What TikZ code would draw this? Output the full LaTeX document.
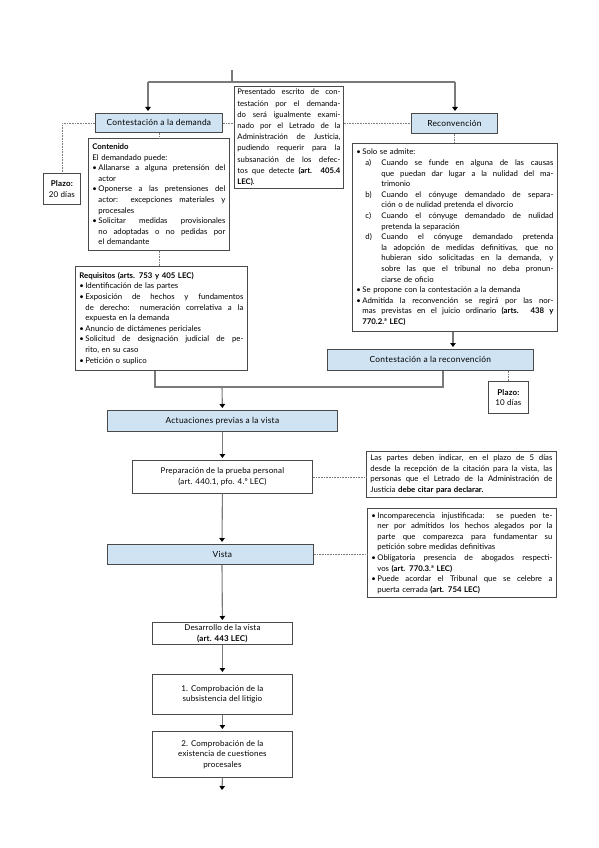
\documentclass[tikz,border=0pt]{standalone}
\usepackage{fontspec}
\setmainfont{Lato}
\usetikzlibrary{arrows.meta,calc}
\definecolor{bluefill}{HTML}{CFE3F3}
\definecolor{boxline}{HTML}{4A4A4A}
\definecolor{conn}{HTML}{7A7A7A}
\newcommand\sj{\spaceskip=0pt\xspaceskip=0pt\relax}
\newcommand\lnJ[2]{\noindent\hspace*{#1}\makebox[\dimexpr\hsize-#1\relax][s]{\sj #2}\par}
\newcommand\lnL[2]{\noindent\hspace*{#1}#2\par}
\newcommand\buJ[2]{\noindent\makebox[#1][l]{\textbullet}\makebox[\dimexpr\hsize-#1\relax][s]{\sj #2}\par}
\newcommand\buL[2]{\noindent\makebox[#1][l]{\textbullet}#2\par}
\newcommand\itJ[2]{\noindent\hspace*{9pt}\makebox[16pt][l]{#1}\makebox[\dimexpr\hsize-25pt\relax][s]{\sj #2}\par}
\begin{document}
\begin{tikzpicture}[x=1pt,y=-1pt,
 box/.style={draw=boxline, line width=0.8pt, fill=white, inner sep=0pt, anchor=north west},
 bluebox/.style={box, fill=bluefill, font=\fontsize{8.4}{10}\selectfont\addfontfeature{LetterSpace=3}, align=center},
 plain/.style={box, font=\fontsize{8}{10.6}\selectfont\addfontfeature{LetterSpace=2}, align=center},
 txt/.style={box, font=\fontsize{7.8}{10.6}\selectfont, align=left, inner xsep=4pt},
 conline/.style={draw=conn, line width=1.1pt},
 arrow/.style={conline, -{Triangle[width=5.5pt,length=4pt,color=black]}, shorten >=2pt},
 dots/.style={draw=conn, line width=0.6pt, dash pattern=on 0.8pt off 0.8pt}]
\useasboundingbox (0,0) rectangle (599,848);

% top row
\node[bluebox, minimum width=127pt, minimum height=19pt] (cd) at (95,113) {Contestación a la demanda};
\node[bluebox, minimum width=86pt, minimum height=20pt] (rec) at (411,113) {Reconvención};
\node[txt, minimum width=109pt, minimum height=102pt, text width=103pt, inner xsep=3pt,
      font=\fontsize{7.7}{11.2}\selectfont] (mid) at (234,86) {%
\lnJ{0pt}{Presentado escrito de con-}
\lnJ{0pt}{testación por el demanda-}
\lnJ{0pt}{do será igualmente exami-}
\lnJ{0pt}{nado por el Letrado de la}
\lnJ{0pt}{Administración de Justicia,}
\lnJ{0pt}{pudiendo requerir para la}
\lnJ{0pt}{subsanación de los defec-}
\lnJ{0pt}{tos que detecte \textbf{(art. 405.4}}
\lnL{0pt}{\textbf{LEC)}.}};

\node[plain, minimum width=37pt, minimum height=31pt] (p20) at (43,173) {\textbf{Plazo:}\\20 días};

\node[txt, minimum width=141pt, minimum height=112pt, text width=133pt] (cont) at (88,138) {%
\lnL{0pt}{\textbf{Contenido}}
\lnL{0pt}{El demandado puede:}
\buJ{6pt}{Allanarse a alguna pretensión del}
\lnL{6pt}{actor}
\buJ{6pt}{Oponerse a las pretensiones del}
\lnJ{6pt}{actor: excepciones materiales y}
\lnL{6pt}{procesales}
\buJ{6pt}{Solicitar medidas provisionales}
\lnJ{6pt}{no adoptadas o no pedidas por}
\lnL{6pt}{el demandante}};

\node[txt, minimum width=172pt, minimum height=104pt, text width=164pt] (req) at (75,266) {%
\lnL{0pt}{\textbf{Requisitos (arts. 753 y 405 LEC)}}
\buL{6pt}{Identificación de las partes}
\buJ{6pt}{Exposición de hechos y fundamentos}
\lnJ{6pt}{de derecho: numeración correlativa a la}
\lnL{6pt}{expuesta en la demanda}
\buL{6pt}{Anuncio de dictámenes periciales}
\buJ{6pt}{Solicitud de designación judicial de pe-}
\lnL{6pt}{rito, en su caso}
\buL{6pt}{Petición o suplico}};

\node[txt, minimum width=205pt, minimum height=188pt, text width=197pt] (rb) at (352,143) {%
\buL{6pt}{Solo se admite:}
\itJ{a)}{Cuando se funde en alguna de las causas}
\lnJ{25pt}{que puedan dar lugar a la nulidad del ma-}
\lnL{25pt}{trimonio}
\itJ{b)}{Cuando el cónyuge demandado de separa-}
\lnL{25pt}{ción o de nulidad pretenda el divorcio}
\itJ{c)}{Cuando el cónyuge demandado de nulidad}
\lnL{25pt}{pretenda la separación}
\itJ{d)}{Cuando el cónyuge demandado pretenda}
\lnJ{25pt}{la adopción de medidas definitivas, que no}
\lnJ{25pt}{hubieran sido solicitadas en la demanda, y}
\lnJ{25pt}{sobre las que el tribunal no deba pronun-}
\lnL{25pt}{ciarse de oficio}
\buL{6pt}{Se propone con la contestación a la demanda}
\buJ{6pt}{Admitida la reconvención se regirá por las nor-}
\lnJ{6pt}{mas previstas en el juicio ordinario \textbf{(arts. 438 y}}
\lnL{6pt}{\textbf{770.2.ª LEC)}}};

\node[bluebox, minimum width=206pt, minimum height=21pt] (crec) at (327,349) {Contestación a la reconvención};
\node[plain, minimum width=40pt, minimum height=32pt] (p10) at (488,381) {\textbf{Plazo:}\\10 días};

% middle
\node[bluebox, minimum width=230pt, minimum height=21pt] (act) at (107,410) {Actuaciones previas a la vista};
\node[plain, minimum width=180pt, minimum height=33pt] (prep) at (132,460) {Preparación de la prueba personal\\(art. 440.1, pfo. 4.º LEC)};
\node[txt, minimum width=190pt, minimum height=46pt, text width=182pt] (partes) at (366,451) {%
\lnJ{0pt}{Las partes deben indicar, en el plazo de 5 días}
\lnJ{0pt}{desde la recepción de la citación para la vista, las}
\lnJ{0pt}{personas que el Letrado de la Administración de}
\lnL{0pt}{Justicia \textbf{debe citar para declarar.}}};

\node[bluebox, minimum width=206pt, minimum height=20pt] (vista) at (107,544) {\hspace*{24pt}Vista};
\node[txt, minimum width=189pt, minimum height=89pt, text width=181pt] (inc) at (367,508) {%
\buJ{6pt}{Incomparecencia injustificada: se pueden te-}
\lnJ{6pt}{ner por admitidos los hechos alegados por la}
\lnJ{6pt}{parte que comparezca para fundamentar su}
\lnL{6pt}{petición sobre medidas definitivas}
\buJ{6pt}{Obligatoria presencia de abogados respecti-}
\lnL{6pt}{vos \textbf{(art. 770.3.ª LEC)}}
\buJ{6pt}{Puede acordar el Tribunal que se celebre a}
\lnL{6pt}{puerta cerrada \textbf{(art. 754 LEC)}}};

% bottom
\node[plain, minimum width=140pt, minimum height=22pt] (des) at (152,622) {Desarrollo de la vista\\\textbf{(art. 443 LEC)}};
\node[plain, minimum width=140pt, minimum height=40pt] (b1) at (152,674) {1. Comprobación de la\\subsistencia del litigio};
\node[plain, minimum width=140pt, minimum height=46pt] (b2) at (152,731) {2. Comprobación de la\\existencia de cuestiones\\procesales};

% coordinates
\coordinate (top) at (232,70);
\coordinate (jL) at (148,82);
\coordinate (jR) at (455,82);
\coordinate (xr) at (453,0);
\coordinate (xc) at (222,0);
\coordinate (jA) at (155,387);
\coordinate (jC) at (443,387);
\coordinate (jM) at (222,387);
\coordinate (end) at (222,792);

% solid connectors
\draw[conline] (top) -- (top |- jL);
\draw[conline] (jL) -- (jR);
\draw[arrow] (jL) -- (jL |- cd.north);
\draw[arrow] (jR) -- (jR |- rec.north);
\draw[arrow] (rb.south -| xr) -- (crec.north -| xr);
\draw[conline] (req.south -| jA) -- (jA) -- (jC) -- (crec.south -| jC);
\draw[arrow] (jM) -- (act.north);
\draw[arrow] (act.south) -- (prep.north);
\draw[arrow] (prep.south) -- (vista.north -| xc);
\draw[arrow] (vista.south -| xc) -- (des.north);
\draw[arrow] (des.south) -- (b1.north);
\draw[arrow] (b1.south) -- (b2.north);
\draw[arrow] (b2.south) -- (end);

% dotted connectors
\draw[dots] (cd.west) -| (p20.north);
\draw[dots] (cd.east) -- (cd.east -| mid.west);
\draw[dots] (mid.east |- rec.west) -- (rec.west);
\draw[dots] (cd.south) -- (cont.north);
\draw[dots] (cont.south) -- (cont.south |- req.north);
\draw[dots] (rec.south) -- (rec.south |- rb.north);
\draw[dots] (p10.north |- crec.south) -- (p10.north);
\draw[dots] (prep.east) -- (prep.east -| partes.west);
\draw[dots] (vista.east) -- (vista.east -| inc.west);
\end{tikzpicture}
\end{document}
